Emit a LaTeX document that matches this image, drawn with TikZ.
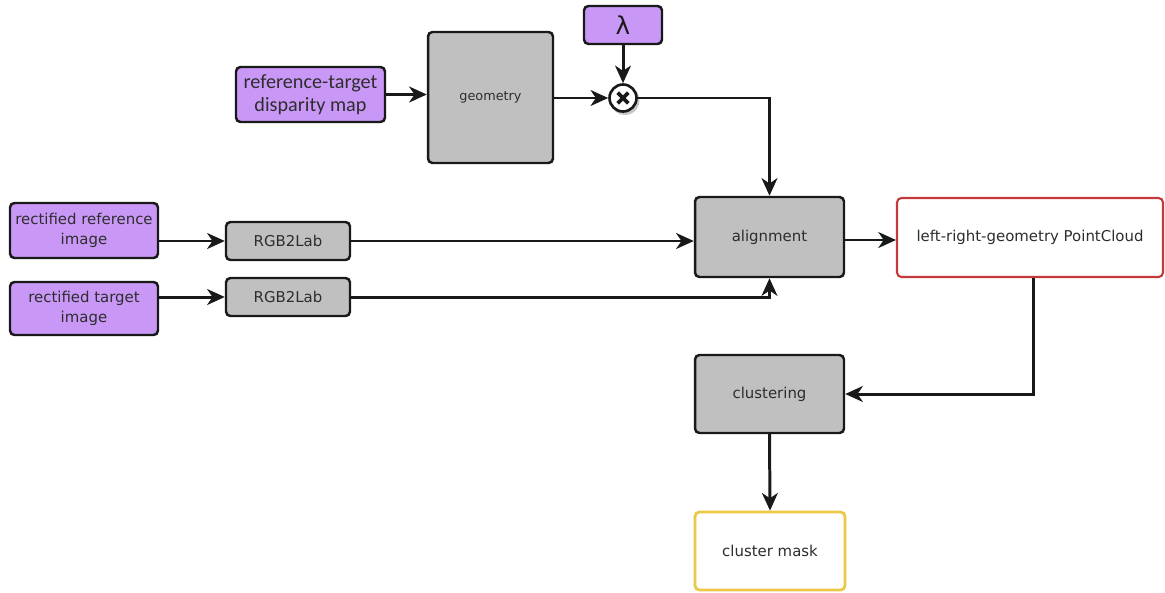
\documentclass[tikz,border=0pt]{standalone}
\usepackage{fontspec}
\setmainfont{DejaVu Sans}
\newfontfamily\calfont{Carlito}
\usetikzlibrary{arrows.meta}
\definecolor{purp}{RGB}{201,152,246}
\definecolor{gbox}{RGB}{192,192,192}
\definecolor{edge}{RGB}{25,25,25}
\definecolor{txt}{RGB}{45,45,45}
\definecolor{redb}{RGB}{196,58,58}
\definecolor{yelb}{RGB}{235,200,70}
\begin{document}
\begin{tikzpicture}[x=0.02cm,y=-0.02cm,
  box/.style={draw=edge,line width=1.4pt,rounded corners=2.5pt,align=center,
    text=txt,inner sep=1pt,font=\fontsize{8.5}{11}\selectfont},
  inbox/.style={box,fill=purp},
  procbox/.style={box,fill=gbox},
  outbox/.style={box,fill=white,line width=1.2pt},
  conn/.style={edge,line width=1.7pt,-{Stealth[length=10pt,width=9pt,inset=3pt]}}]
\useasboundingbox (0,0) rectangle (1165,592);
\node[inbox,minimum width=2.98cm,minimum height=1.1cm,font=\calfont\fontsize{11.5}{13}\selectfont] (disp) at (310.5,94.5) {reference-target\\disparity map};
\node[procbox,minimum width=2.5cm,minimum height=2.62cm,font=\fontsize{7.3}{9}\selectfont] (geom) at (490.5,97.5) {geometry};
\node[inbox,minimum width=1.56cm,minimum height=0.76cm,font=\fontsize{14}{16}\selectfont,text=edge] (lam) at (623,25) {λ};
\fill[black!22] (625,100.5) circle (0.29cm);
\node[circle,draw=edge,line width=1.5pt,fill=white,minimum size=0.54cm,inner sep=0pt] (mul) at (623,98) {};
\draw[edge,line width=2.1pt] (mul.center) ++(45:0.15cm) -- ++(225:0.3cm);
\draw[edge,line width=2.1pt] (mul.center) ++(135:0.15cm) -- ++(315:0.3cm);
\node[procbox,minimum width=2.98cm,minimum height=1.6cm] (align) at (769.5,237) {alignment};
\node[inbox,minimum width=2.96cm,minimum height=1.1cm] (refimg) at (84,230.5) {rectified reference\\image};
\node[procbox,minimum width=2.48cm,minimum height=0.76cm] (rgb1) at (288,241) {RGB2Lab};
\node[procbox,minimum width=2.48cm,minimum height=0.76cm] (rgb2) at (288,297) {RGB2Lab};
\node[inbox,minimum width=2.96cm,minimum height=1.06cm] (tgtimg) at (84,308.5) {rectified target\\image};
\node[outbox,draw=redb,minimum width=5.32cm,minimum height=1.58cm] (pc) at (1030,237.5) {left-right-geometry PointCloud};
\node[procbox,minimum width=2.98cm,minimum height=1.56cm] (clus) at (769.5,394) {clustering};
\node[outbox,draw=yelb,line width=1.6pt,minimum width=3.0cm,minimum height=1.56cm] (mask) at (770,551) {cluster mask};
\coordinate (pcout) at (1033,277.5);
\draw[conn] (disp.east) -- (disp.east -| geom.west);
\draw[conn] (geom.east |- mul) -- (mul.west);
\draw[conn] (lam.south) -- (mul.north);
\draw[conn] (mul.east) -| (align.north);
\draw[conn] (refimg.east |- rgb1) -- (rgb1.west);
\draw[conn] (tgtimg.east |- rgb2) -- (rgb2.west);
\draw[conn] (rgb1.east) -- (rgb1.east -| align.west);
\draw[conn] (rgb2.east) -| (align.south);
\draw[conn] (align.east |- 0,240) -- (pc.west |- 0,240);
\draw[conn] (pcout) |- (clus.east);
\draw[conn] (clus.south) -- (mask.north);
\end{tikzpicture}
\end{document}
